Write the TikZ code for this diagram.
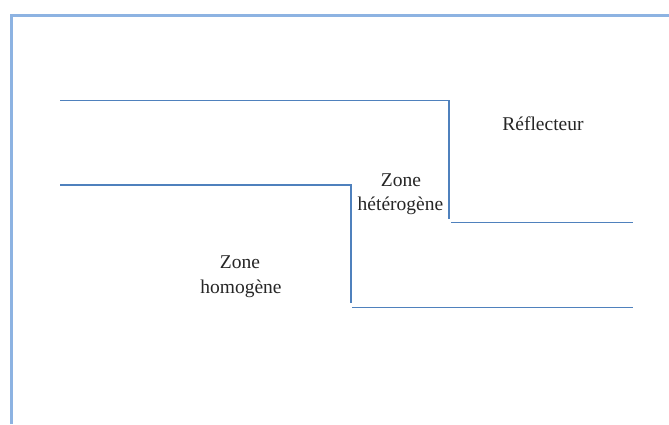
\documentclass[tikz,border=0pt]{standalone}
\usepackage{fontspec}
\setmainfont{Liberation Serif}
\begin{document}
\begin{tikzpicture}[x=1pt,y=-1pt,
  frameline/.style={draw=frameblue,line width=3pt},
  boundary/.style={draw=lineblue,line width=1.6pt},
  zonelabel/.style={anchor=base,inner sep=0pt,font=\fontsize{19.5}{24}\selectfont,text=black!85}]
\definecolor{frameblue}{HTML}{8DB3E2}
\definecolor{lineblue}{HTML}{4F81BD}
\useasboundingbox (0,0) rectangle (669,424);
% outer frame (top and left edges)
\coordinate (fbl) at (11,424);
\coordinate (ftl) at (11,15.5);
\coordinate (ftr) at (669,15.5);
\draw[frameline] (fbl) -- (ftl) -- (ftr);
% upper boundary: heterogeneous zone / reflector
\coordinate (ua) at (60,100.5);
\coordinate (ub) at (449,100.5);
\coordinate (uc) at (449,219);
\coordinate (ud) at (451,222.5);
\coordinate (ue) at (633,222.5);
\draw[boundary] (ua) -- (ub) -- (uc);
\draw[boundary] (ud) -- (ue);
% lower boundary: homogeneous zone / heterogeneous zone
\coordinate (la) at (60,185);
\coordinate (lb) at (351,185);
\coordinate (lc) at (351,303);
\coordinate (ld) at (352,307.5);
\coordinate (le) at (633,307.5);
\draw[boundary] (la) -- (lb) -- (lc);
\draw[boundary] (ld) -- (le);
% labels
\node[zonelabel] (refl) at (543,130) {Réflecteur};
\node[zonelabel] (het1) at (401,186) {Zone};
\node[zonelabel] (het2) at (400.5,210.5) {hétérogène};
\node[zonelabel] (hom1) at (240,268) {Zone};
\node[zonelabel] (hom2) at (241,293) {homogène};
\end{tikzpicture}
\end{document}
